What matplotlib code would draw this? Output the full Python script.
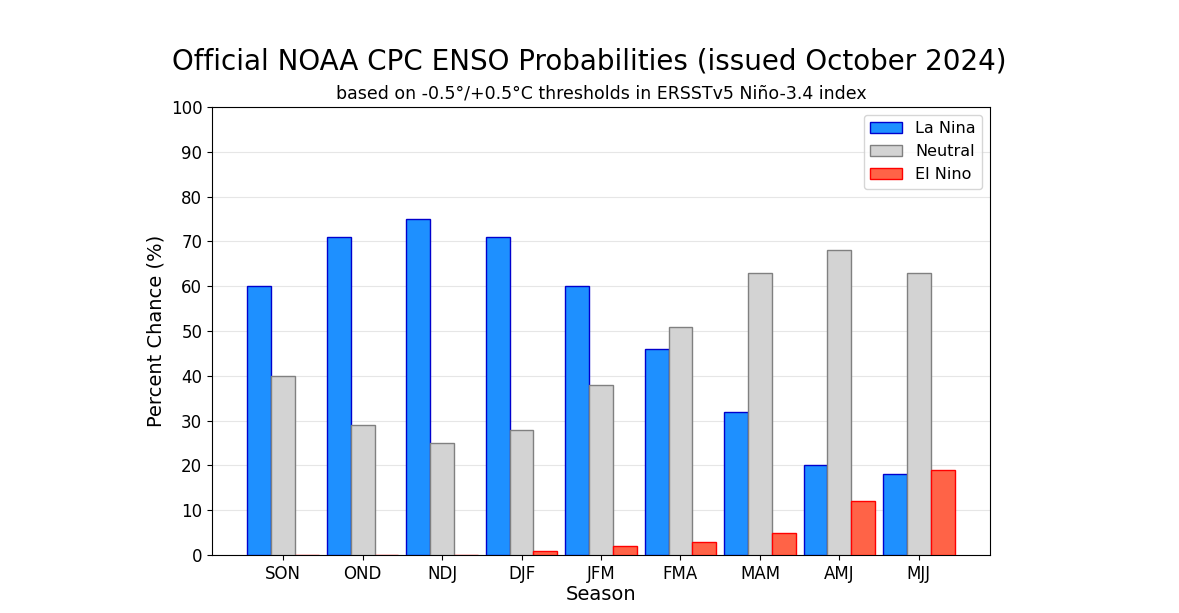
import numpy as np
import matplotlib.pyplot as plt

seasons = ['SON', 'OND', 'NDJ', 'DJF', 'JFM', 'FMA', 'MAM', 'AMJ', 'MJJ']
la_nina = [60, 71, 75, 71, 60, 46, 32, 20, 18]
neutral = [40, 29, 25, 28, 38, 51, 63, 68, 63]
el_nino = [0, 0, 0, 1, 2, 3, 5, 12, 19]

x = np.arange(len(seasons))
w = 0.3

fig = plt.figure(figsize=(11.79, 6.13), dpi=100)
ax = fig.add_axes([212 / 1179, 1 - 555 / 613, (990 - 212) / 1179, (555 - 107) / 613])

ax.bar(x - w, la_nina, w, color='dodgerblue', edgecolor='mediumblue', label='La Nina', zorder=3)
ax.bar(x, neutral, w, color='lightgray', edgecolor='gray', label='Neutral', zorder=3)
ax.bar(x + w, el_nino, w, color='tomato', edgecolor='red', label='El Nino', zorder=3)

ax.set_ylim(0, 100)
ax.set_yticks(range(0, 101, 10))
ax.set_xticks(x)
ax.set_xticklabels(seasons)
ax.tick_params(labelsize=12)
ax.grid(axis='y', color='#e6e6e6', linewidth=0.8, zorder=0)
ax.set_axisbelow(True)
ax.set_xlabel('Season', fontsize=14, labelpad=2)
ax.set_ylabel('Percent Chance (%)', fontsize=14)
ax.set_title('based on -0.5°/+0.5°C thresholds in ERSSTv5 Niño-3.4 index', fontsize=12.5)
fig.suptitle('Official NOAA CPC ENSO Probabilities (issued October 2024)', fontsize=20, y=0.922)
ax.legend(loc='upper right', fontsize=11.5)

fig.savefig('out.png', dpi=100)
